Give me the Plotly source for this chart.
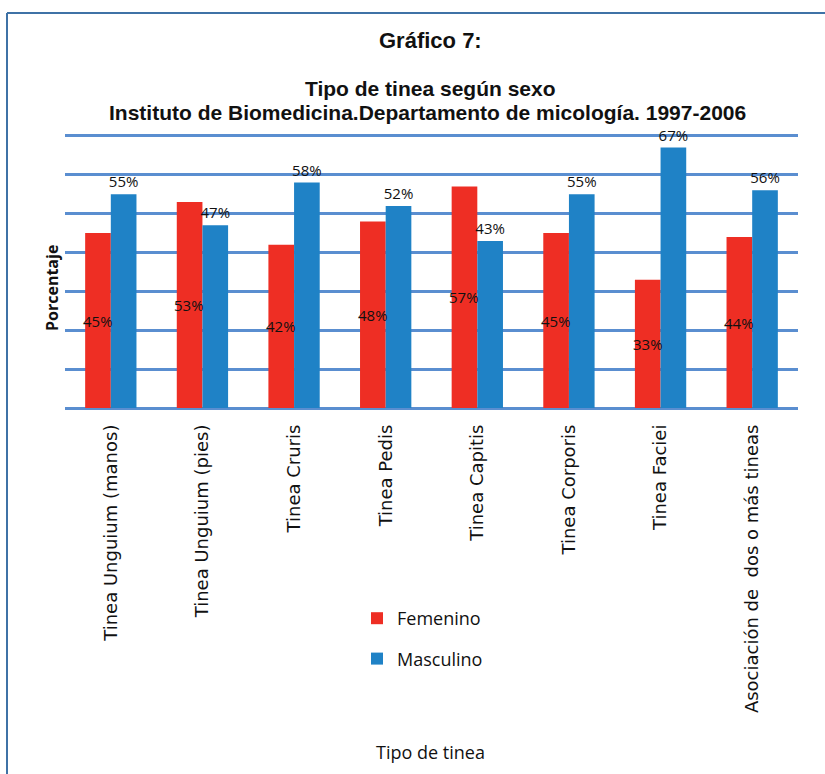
import plotly.graph_objects as go

categorias = ["Tinea Unguium (manos)", "Tinea Unguium (pies)", "Tinea Cruris", "Tinea Pedis",
              "Tinea Capitis", "Tinea Corporis", "Tinea Faciei", "Asociación de  dos o más tineas"]
femenino = [45, 53, 42, 48, 57, 45, 33, 44]
masculino = [55, 47, 58, 52, 43, 55, 67, 56]

ROJO = "#EE2E24"
AZUL = "#1F82C6"
GRID = "#5A8ED0"
MARCO = "#3F72A6"
TXT = "#111111"
TITFONT = "Liberation Sans Narrow, Arial Narrow, Liberation Sans"

W, H = 825, 774
L, R, T, B = 65, 27, 134, 366
pw, ph = W - L - R, H - T - B

def px(xp):
    return (xp - L) / pw

def py(yp):
    return (H - B - yp) / ph

fig = go.Figure()
fig.add_trace(go.Bar(x=categorias, y=femenino, name="Femenino", marker_color=ROJO,
                     marker_line_width=0, legendgroup="f"))
fig.add_trace(go.Bar(x=categorias, y=masculino, name="Masculino", marker_color=AZUL,
                     marker_line_width=0, legendgroup="m",
                     text=[f"{v}%" for v in masculino], textposition="outside",
                     constraintext="none",
                     textfont=dict(family="Open Sans", size=15, color=TXT),
                     cliponaxis=False))

for c, v in zip(categorias, femenino):
    fig.add_annotation(x=c, y=v / 2, xref="x", yref="y", text=f"{v}%", showarrow=False,
                       xshift=-13, xanchor="center", yanchor="middle",
                       font=dict(family="Open Sans", size=15, color=TXT))

def ann(x, y, text, size, family=TITFONT, angle=0):
    fig.add_annotation(x=x, y=y, xref="paper", yref="paper", text=text, showarrow=False,
                       xanchor="center", yanchor="middle", textangle=angle,
                       font=dict(family=family, size=size, color=TXT))

ann(px(430), py(40), "<b>Gráfico 7:</b>", 22)
ann(px(430), py(88), "<b>Tipo de tinea según sexo</b>", 21)
ann(px(427), py(112), "<b>Instituto de Biomedicina.Departamento de micología. 1997-2006</b>", 21)
ann(px(52), py(288), "<b>Porcentaje</b>", 16, family="Open Sans", angle=-90)
ann(px(430), py(752), "Tipo de tinea", 18, family="Open Sans")

fig.add_shape(type="line", xref="paper", yref="paper", x0=px(7), x1=px(830), y0=py(13), y1=py(13),
              line=dict(color=MARCO, width=2))
fig.add_shape(type="line", xref="paper", yref="paper", x0=px(7), x1=px(7), y0=py(13), y1=py(780),
              line=dict(color=MARCO, width=2))

fig.update_layout(
    width=W, height=H,
    margin=dict(l=L, r=R, t=T, b=B, pad=0),
    paper_bgcolor="white", plot_bgcolor="white",
    barmode="group", bargap=0.44, bargroupgap=0,
    showlegend=True,
    legend=dict(x=px(357), y=py(600), xanchor="left", yanchor="top",
                font=dict(family="Open Sans", size=18, color=TXT),
                tracegroupgap=14, bgcolor="rgba(0,0,0,0)"),
    xaxis=dict(tickangle=-90, showline=False, showgrid=False, ticks="",
               tickfont=dict(family="DejaVu Sans", size=18, color=TXT),
               ticklabelstandoff=12),
    yaxis=dict(range=[0, 70.5], dtick=10, showticklabels=False, showgrid=True,
               gridcolor=GRID, gridwidth=3, zeroline=True, zerolinecolor=GRID, zerolinewidth=3,
               showline=False),
)

fig.write_html("out.html")
